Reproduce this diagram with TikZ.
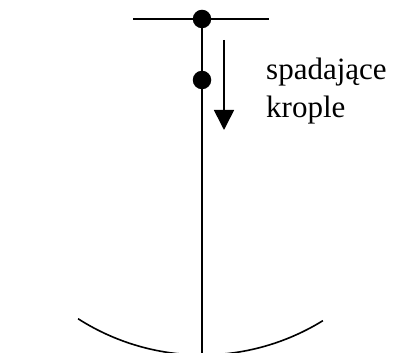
\documentclass[tikz,border=0pt]{standalone}
\usepackage{fontspec}
\setmainfont{Liberation Serif}
\usetikzlibrary{arrows.meta}
\begin{document}
\begin{tikzpicture}[x=1pt,y=1pt,
  ln/.style={line width=1.6pt},
  dot/.style={circle,fill=black,inner sep=0pt,minimum size=18.5pt},
  lbl/.style={font=\fontsize{31}{37}\selectfont,anchor=base west,inner sep=0pt}]
\useasboundingbox (0,0) rectangle (396,353);
\clip (0,0) rectangle (396,353);
% horizontal bar
\coordinate (hl) at (133,334);
\coordinate (hr) at (269,334);
\draw[ln] (hl) -- (hr);
% vertical line
\node[dot] (d1) at (202,334) {};
\coordinate (bot) at (202,-2);
\draw[ln] (d1.center) -- (bot);
\node[dot] (d2) at (202,273) {};
% falling arrow
\coordinate (as) at (224,313);
\coordinate (ae) at (224,223);
\draw[ln,-{Triangle[width=20pt,length=20pt]}] (as) -- (ae);
% label
\node[lbl] (t1) at (266,273) {spadające};
\node[lbl] (t2) at (266,235) {krople};
% bowl arc
\coordinate (ac) at (202,228);
\draw[ln] (ac) ++(237.4:230) arc[start angle=237.4,end angle=301.7,radius=230];
\end{tikzpicture}
\end{document}
